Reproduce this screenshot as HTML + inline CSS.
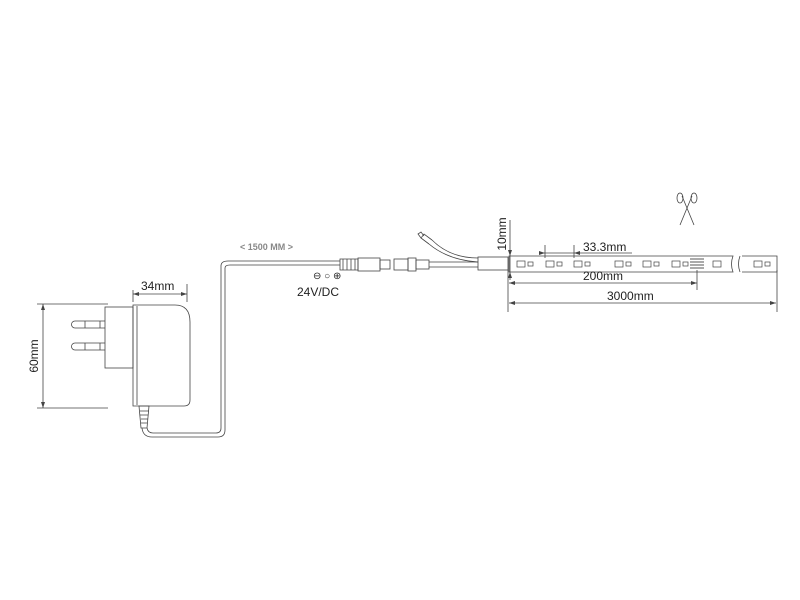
<!DOCTYPE html>
<html><head><style>body{margin:0;background:#fff}svg{display:block}</style></head><body>
<svg width="800" height="600" viewBox="0 0 800 600" xmlns="http://www.w3.org/2000/svg" font-family="Liberation Sans, sans-serif">
<g fill="none" stroke="#444" stroke-width="0.8">
<!-- 60mm dim -->
<line x1="37" y1="304" x2="108" y2="304"/><line x1="37" y1="408" x2="108" y2="408"/>
<line x1="43" y1="304" x2="43" y2="408"/>
<!-- 34mm dim -->
<line x1="133" y1="290" x2="133" y2="302"/><line x1="187" y1="284" x2="187" y2="302"/>
<line x1="133" y1="294" x2="187" y2="294"/>
<!-- plug -->
<rect x="105" y="307" width="28" height="61"/>
<path d="M105 321 H75 a3 3 0 0 0 0 7 H105 M105 343 H75 a3 3 0 0 0 0 7 H105 M85 321 v7 M100 321 v7 M85 343 v7 M100 343 v7"/>
<!-- body -->
<path d="M133 305 H175 Q190 305 190 322 V400 Q190 406 184 406 H133 Z"/>
<path d="M137 306 V405"/>
<!-- strain relief -->
<path d="M139 406 h10 l-2 22 h-6 Z"/>
<path d="M140 411 h9 M140 415 h8 M141 419 h7 M141 423 h6"/>
<!-- cable -->
<path d="M142 428 Q143 437 152 437 H218 Q225 437 225 430 V268 Q225 265 230 265 H340"/>
<path d="M147 428 Q148 433 153 433 H216 Q221 433 221 428 V266 Q221 261 228 261 H340"/>
<!-- jack -->
<path d="M340 259 h18 v11 h-18 Z M343 259v11 M347 259v11 M351 259v11 M355 259v11"/>
<rect x="358" y="258" width="22" height="13"/>
<rect x="380" y="260" width="10" height="9"/>
<!-- female -->
<rect x="394" y="259" width="14" height="11"/>
<rect x="408" y="258" width="8" height="13"/>
<rect x="416" y="260" width="13" height="9"/>
<path d="M429 262 H478 M429 267 H478"/>
<!-- branch -->
<path d="M478 258 Q450 258 432 240 M478 262 Q448 260 429 244"/>
<path d="M429 244 l-8 -6 l3 -4 l8 6 M421 238 l-3 -4 l3 -2 l3 4"/>
<rect x="478" y="257" width="30" height="13"/>
<!-- strip -->
<path d="M509 256 H733 Q730 264 733 272 H509 Z"/>
<path d="M740 256 Q737 264 740 272 M742 256 H777 V272 H742"/>
<!-- 10mm -->
<line x1="510" y1="220" x2="510" y2="280"/>
<!-- 33.3 -->
<line x1="540" y1="253" x2="632" y2="253"/>
<line x1="545" y1="245" x2="545" y2="258"/><line x1="574" y1="245" x2="574" y2="258"/>
<!-- 200 -->
<line x1="509" y1="283" x2="697" y2="283"/><line x1="697" y1="270" x2="697" y2="290"/>
<!-- 3000 -->
<line x1="508" y1="270" x2="508" y2="312"/><line x1="777" y1="270" x2="777" y2="312"/>
<line x1="509" y1="303" x2="776" y2="303"/>
<!-- scissors -->
<path d="M682 196 L694 225 M692 196 L680 225"/>
<ellipse cx="680" cy="198" rx="3" ry="5"/><ellipse cx="694" cy="198" rx="3" ry="5"/>
</g>
<g fill="none" stroke="#444" stroke-width="0.7">
<rect x="517" y="261" width="8" height="6"/><rect x="528" y="262" width="5" height="4"/>
<rect x="546" y="261" width="8" height="6"/><rect x="557" y="262" width="5" height="4"/>
<rect x="574" y="261" width="8" height="6"/><rect x="585" y="262" width="5" height="4"/>
<rect x="615" y="261" width="8" height="6"/><rect x="626" y="262" width="5" height="4"/>
<rect x="643" y="261" width="8" height="6"/><rect x="654" y="262" width="5" height="4"/>
<rect x="672" y="261" width="8" height="6"/><rect x="683" y="262" width="5" height="4"/>
<rect x="713" y="261" width="8" height="6"/>
<rect x="754" y="261" width="8" height="6"/><rect x="765" y="262" width="5" height="4"/>
</g>
<g stroke="#555" stroke-width="1">
<path d="M690 259h14M690 262h14M690 265h14M690 268h14"/>
</g>
<g fill="#444">
<path d="M43 304 l-2 6 h4z M43 408 l-2 -6 h4z M133 294 l6 -2 v4z M187 294 l-6 -2 v4z M509 303 l6 -2 v4z M776 303 l-6 -2 v4z M509 283 l6 -2 v4z M697 283 l-6 -2 v4z M545 253 l-6 -2 v4z M574 253 l6 -2 v4z M510 256 l-2 -6 h4z M510 272 l-2 6 h4z"/>
</g>
<g fill="#222" font-size="12">
<text x="141" y="290">34mm</text>
<text x="38" y="356" transform="rotate(-90 38 356)" text-anchor="middle">60mm</text>
<text x="506" y="234" transform="rotate(-90 506 234)" text-anchor="middle">10mm</text>
<text x="583" y="251">33.3mm</text>
<text x="583" y="280">200mm</text>
<text x="607" y="300">3000mm</text>
<text x="297" y="296">24V/DC</text>
<text x="313" y="279" font-size="10">⊖ ○ ⊕</text>
<text x="240" y="250" font-size="9" font-weight="bold" fill="#888">&lt; 1500 MM &gt;</text>
</g>
</svg>
</body></html>
